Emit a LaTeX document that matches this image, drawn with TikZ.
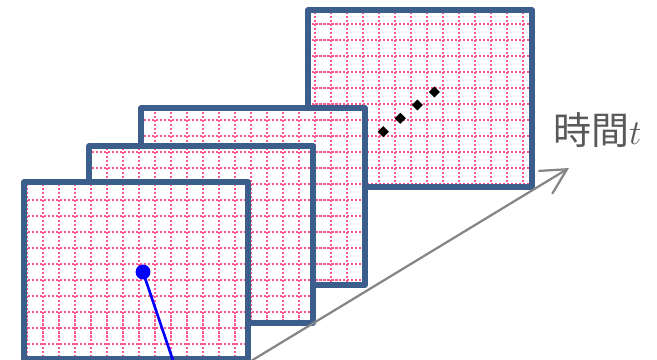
\documentclass[tikz,border=0pt]{standalone}
\usepackage{fontspec}
\newfontfamily\cjkfont{Noto Sans CJK JP}
\usetikzlibrary{arrows.meta,shapes.geometric}
\definecolor{framecol}{HTML}{3B5E8C}
\definecolor{gridcol}{HTML}{FF5890}
\definecolor{axiscol}{HTML}{868686}
\definecolor{labelcol}{HTML}{595959}

\begin{document}
\begin{tikzpicture}[
  x=0.025cm, y=-0.025cm, line join=round,
  frm/.style={draw=framecol, line width=3.6pt},
  gridln/.style={gridcol, line width=1.45pt, dash pattern=on 1.45pt off 1.39pt},
  dmd/.style={shape=diamond, fill=black, inner sep=0pt,
              minimum width=8pt, minimum height=8pt},
  spot/.style={shape=circle, fill=blue, inner sep=0pt, minimum size=10.6pt},
  traj/.style={blue, line width=1.9pt},
  taxis/.style={axiscol, line width=1.6pt,
                -{Straight Barb[length=18pt, width=19pt]}},
  tlbl/.style={font=\cjkfont\fontsize{27}{30}\selectfont, text=labelcol,
               anchor=west, inner sep=0pt}]

\def\fw{224}   % frame width
\def\fh{177}   % frame height

\useasboundingbox (0,0) rectangle (657,360);

% ---------------------------------------------------------------- frames, back to front
\foreach \fx/\fy in {308/10, 141/108, 89/146, 24/182} {
  \fill[white] (\fx,\fy) rectangle ++(\fw,\fh);
  \begin{scope}
    \clip (\fx,\fy) rectangle ++(\fw,\fh);
    \foreach \k in {0,...,40}
      \draw[gridln] ({10.8+16*\k},0) -- ({10.8+16*\k},362);
    \foreach \k in {0,...,22}
      \draw[gridln] (0,{7.8+16*\k}) -- (660,{7.8+16*\k});
  \end{scope}
  \draw[frm] (\fx,\fy) rectangle ++(\fw,\fh);
}

% ---------------------------------------------------------------- frames in between
\foreach \dx/\dy [count=\i] in {383.3/131.7, 400.3/118.3, 417.3/105, 434.3/92}
  \node[dmd] (d\i) at (\dx,\dy) {};

% ---------------------------------------------------------------- point on the front frame
\node[spot] (pt) at (143,272) {};
\coordinate (pbase) at (173.5,362);
\draw[traj] (pt.center) -- (pbase);

% ---------------------------------------------------------------- time axis
\coordinate (tstart) at (251,361);
\coordinate (tend) at (569,168);
\draw[taxis] (tstart) -- (tend);
\node[tlbl] (tlabel) at (553,130) {時間{\fontsize{32}{35}\selectfont$t$}};

\end{tikzpicture}
\end{document}
